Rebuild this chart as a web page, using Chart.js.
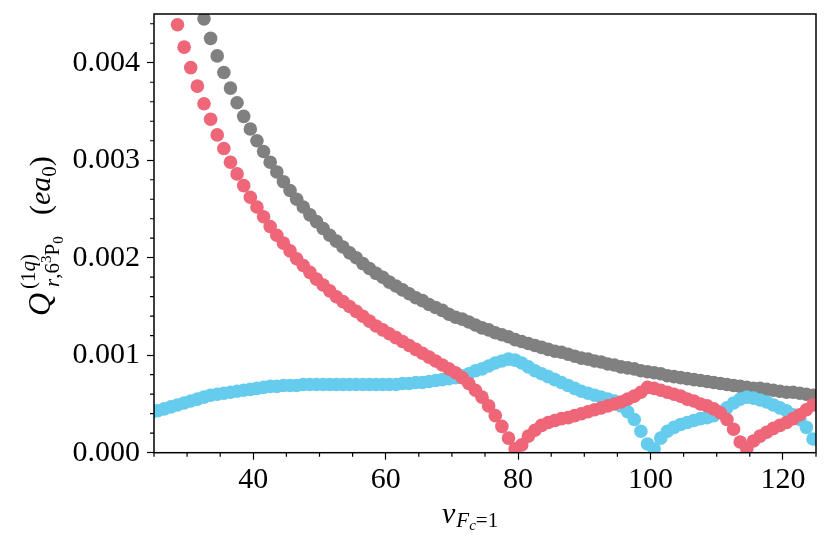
<!DOCTYPE html>
<html><head><meta charset="utf-8">
<script src="https://cdn.jsdelivr.net/npm/chart.js@4.4.0/dist/chart.umd.min.js"></script>
<style>html,body{margin:0;padding:0;background:#fff}canvas{display:block}</style>
</head><body>
<canvas id="c" width="830" height="545"></canvas>
<script>
// effective principal quantum number nu_{Fc=1}
const nu = [
  24.55,25.55,26.55,27.55,
  28.55,29.55,30.55,31.55,32.55,33.55,34.55,35.55,36.55,37.55,
  38.55,39.55,40.55,41.55,42.55,43.55,44.55,45.55,46.55,47.55,
  48.55,49.55,50.55,51.55,52.55,53.55,54.55,55.55,56.55,57.55,
  58.55,59.55,60.55,61.55,62.55,63.55,64.55,65.55,66.55,67.55,
  68.55,69.55,70.55,71.55,72.55,73.55,74.55,75.55,76.55,77.55,
  78.55,79.55,80.55,81.55,82.55,83.55,84.55,85.55,86.55,87.55,
  88.55,89.55,90.55,91.55,92.55,93.55,94.55,95.55,96.55,97.55,
  98.55,99.55,100.55,101.55,102.55,103.55,104.55,105.55,106.55,107.55,
  108.55,109.55,110.55,111.55,112.55,113.55,114.55,115.55,116.55,117.55,
  118.55,119.55,120.55,121.55,122.55,123.55,124.55
];
// grey series
const greyQ = [
  null,null,null,null,null,null,null,null,
  0.00445,0.00425,0.00407,0.00390,0.00374,0.00359,0.00345,0.00332,0.00320,0.00309,
  0.00298,0.00288,0.00278,0.00269,0.00260,0.00252,0.00244,0.00237,0.00230,0.00223,
  0.00217,0.00211,0.00205,0.00200,0.00194,0.00189,0.00184,0.00180,0.00175,0.00171,
  0.00167,0.00163,0.00159,0.00156,0.00152,0.00149,0.00146,0.00142,0.00139,0.00137,
  0.00134,0.00131,0.00128,0.00126,0.00123,0.00121,0.00119,0.00116,0.00114,0.00112,
  0.00110,0.00108,0.00106,0.00104,0.00103,0.00101,0.00099,0.00097,0.00096,0.00094,
  0.00093,0.00091,0.00090,0.00088,0.00087,0.00086,0.00084,0.00083,0.00082,0.00081,
  0.00079,0.00078,0.00077,0.00076,0.00075,0.00074,0.00073,0.00072,0.00071,0.00070,
  0.00069,0.00068,0.00067,0.00066,0.00066,0.00065,0.00064,0.00063,0.00062,0.00062,
  0.00061,0.00060,0.00059
];
// red series
const redQ = [
  null,null,null,null,
  0.00439,0.00416,0.00395,0.00376,0.00358,0.00342,0.00326,0.00312,0.00298,0.00286,
  0.00274,0.00262,0.00252,0.00242,0.00232,0.00223,0.00215,0.00207,0.00199,0.00192,
  0.00185,0.00178,0.00172,0.00166,0.00160,0.00155,0.00150,0.00145,0.00140,0.00135,
  0.00130,0.00126,0.00122,0.00118,0.00114,0.00110,0.00106,0.00102,0.00098,0.00094,
  0.00090,0.00086,0.00082,0.00077,0.00071,0.00064,0.00057,0.00048,0.00038,0.00027,
  0.00015,0.00004,0.00008,0.00017,0.00023,0.00028,0.00031,0.00033,0.00035,0.00036,
  0.00038,0.00040,0.00042,0.00044,0.00046,0.00048,0.00050,0.00052,0.00055,0.00058,
  0.00062,0.00067,0.00066,0.00064,0.00062,0.00060,0.00058,0.00055,0.00053,0.00050,
  0.00048,0.00045,0.00041,0.00034,0.00024,0.00011,0.00004,0.00012,0.00017,0.00021,
  0.00025,0.00028,0.00031,0.00035,0.00039,0.00044,0.00049
];
// cyan series
const cyanQ = [
  0.00041,0.00043,0.00045,0.00047,
  0.00049,0.00051,0.00053,0.00055,0.00057,0.00059,0.00060,0.00061,0.00062,0.00063,
  0.00064,0.00065,0.00066,0.00067,0.00068,0.00068,0.00069,0.00069,0.00069,0.00070,
  0.00070,0.00070,0.00070,0.00070,0.00070,0.00070,0.00070,0.00070,0.00070,0.00070,
  0.00070,0.00070,0.00070,0.00070,0.00071,0.00071,0.00072,0.00072,0.00073,0.00074,
  0.00075,0.00076,0.00077,0.00079,0.00081,0.00084,0.00086,0.00089,0.00092,0.00094,
  0.00096,0.00095,0.00092,0.00088,0.00084,0.00081,0.00078,0.00075,0.00072,0.00069,
  0.00066,0.00063,0.00061,0.00059,0.00057,0.00055,0.00053,0.00048,0.00042,0.00034,
  0.00022,0.00009,0.00004,0.00015,0.00022,0.00026,0.00029,0.00031,0.00033,0.00035,
  0.00036,0.00038,0.00042,0.00046,0.00051,0.00055,0.00057,0.00056,0.00054,0.00052,
  0.00049,0.00046,0.00043,0.00039,0.00034,0.00026,0.00014
];
const xTicks = [40, 60, 80, 100, 120];
const yTicks = [0, 0.001, 0.002, 0.003, 0.004];
const xRange = [25, 125];
const yRange = [0, 0.0045];
const xMinorStep = 5;
const yMinorStep = 0.0002;

const FONT = "'Liberation Serif', 'DejaVu Serif', serif";
function pts(arr){ return nu.map((x,i)=>({x:x, y:arr[i]})).filter(p=>p.y!==null); }

function drawPieces(ctx, pieces){
  let x = 0; let mark = 0; let maxEnd = 0;
  for (const p of pieces){
    if (p.mark) { mark = x; continue; }
    if (p.reset) { maxEnd = Math.max(maxEnd, x); x = mark; continue; }
    if (p.gap) { x += p.gap; continue; }
    if (p.at !== undefined) { x = p.at; continue; }
    ctx.font = (p.it ? 'italic ' : '') + p.s + 'px ' + FONT;
    ctx.fillText(p.t, x, p.dy || 0);
    x += ctx.measureText(p.t).width;
  }
}

const deco = {
  id: 'deco',
  afterDraw(chart){
    const ctx = chart.ctx, a = chart.chartArea;
    const xs = chart.scales.x, ys = chart.scales.y;
    ctx.save();
    ctx.strokeStyle = '#000'; ctx.lineWidth = 1.2;
    ctx.beginPath();
    for (let v = xRange[0]; v <= xRange[1] + 1e-9; v += xMinorStep){
      if (xTicks.includes(v)) continue;
      const px = xs.getPixelForValue(v);
      ctx.moveTo(px, a.bottom); ctx.lineTo(px, a.bottom + 4);
    }
    for (let i = 0; i * yMinorStep <= yRange[1] + 1e-12; i++){
      if (i % 5 === 0) continue;
      const py = ys.getPixelForValue(i * yMinorStep);
      ctx.moveTo(a.left - 4, py); ctx.lineTo(a.left, py);
    }
    ctx.stroke();
    ctx.lineWidth = 1.5;
    ctx.strokeRect(a.left, a.top, a.right - a.left, a.bottom - a.top);
    ctx.fillStyle = '#000';
    ctx.textBaseline = 'alphabetic'; ctx.textAlign = 'left';
    // y-axis title
    ctx.save();
    ctx.translate(50, 316);
    ctx.rotate(-Math.PI/2);
    drawPieces(ctx, [
      {t:'Q', s:32, it:true},
      {gap:4},
      {mark:true},
      {t:'(1', s:21, dy:-15}, {t:'q', s:21, it:true, dy:-15}, {t:')', s:21, dy:-15},
      {reset:true},
      {gap:2},
      {t:'r', s:21, it:true, dy:9}, {t:',', s:21, dy:9}, {t:'6', s:21, dy:9},
      {t:'3', s:15, dy:1}, {t:'P', s:21, dy:9}, {t:'0', s:15, dy:13},
      {at:101},
      {t:'(', s:30}, {t:'ea', s:30, it:true}, {t:'0', s:21, dy:6}, {t:')', s:30}
    ]);
    ctx.restore();
    // x-axis title
    ctx.save();
    ctx.translate(442, 523);
    drawPieces(ctx, [
      {t:'\u03bd', s:30, it:true},
      {gap:1},
      {t:'F', s:21, it:true, dy:4},
      {t:'c', s:15, it:true, dy:7},
      {t:'=1', s:21, dy:4}
    ]);
    ctx.restore();
    ctx.restore();
  }
};

new Chart(document.getElementById('c'), {
  type: 'scatter',
  data: { datasets: [
    { label:'red', data: pts(redQ), backgroundColor:'#EE6677', borderWidth:0, pointRadius:6.8, order:1, clip:0 },
    { label:'cyan', data: pts(cyanQ), backgroundColor:'#66CCEE', borderWidth:0, pointRadius:6.8, order:2, clip:0 },
    { label:'grey', data: pts(greyQ), backgroundColor:'#808080', borderWidth:0, pointRadius:6.8, order:3, clip:0 }
  ]},
  options: {
    responsive: false, animation: false, devicePixelRatio: 1,
    layout: { padding: { left: 0, top: 14, right: 14, bottom: 0 } },
    plugins: { legend: { display:false }, tooltip: { enabled:false } },
    events: [],
    scales: {
      x: {
        type:'linear', min:xRange[0], max:xRange[1],
        afterBuildTicks: s => { s.ticks = xTicks.map(v=>({value:v})); },
        afterFit: s => { s.height = 92.3; s.paddingLeft = 0; s.paddingRight = 0; s.paddingTop = 0; s.paddingBottom = 0; },
        grid: { drawOnChartArea:false, drawTicks:true, tickLength:7, tickWidth:1.2, tickColor:'#000' },
        border: { display:false },
        ticks: { color:'#000', font:{ family:FONT, size:30 }, padding:2, maxRotation:0,
                 callback: v => String(v) }
      },
      y: {
        type:'linear', min:yRange[0], max:yRange[1],
        afterBuildTicks: s => { s.ticks = yTicks.map(v=>({value:v})); },
        afterFit: s => { s.width = 154; s.paddingLeft = 0; s.paddingRight = 0; s.paddingTop = 0; s.paddingBottom = 0; },
        grid: { drawOnChartArea:false, drawTicks:true, tickLength:7, tickWidth:1.2, tickColor:'#000' },
        border: { display:false },
        ticks: { color:'#000', font:{ family:FONT, size:30 }, padding:7,
                 callback: v => Number(v).toFixed(3) }
      }
    }
  },
  plugins: [deco]
});
</script>
</body></html>
